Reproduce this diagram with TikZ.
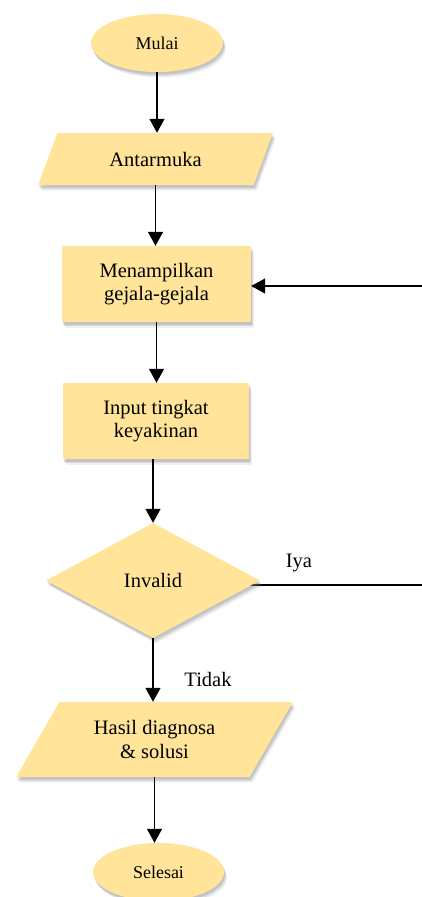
\documentclass[tikz,border=0pt]{standalone}
\usepackage{fontspec}
\setmainfont{Liberation Serif}
\usetikzlibrary{shapes.geometric,shadows,arrows.meta}
\pgfdeclarelayer{background}
\pgfsetlayers{background,main}
\definecolor{boxfill}{HTML}{FFE499}
\tikzset{
 base/.style={fill=boxfill, draw=none,
   drop shadow={shadow xshift=3pt, shadow yshift=-5.5pt, opacity=0.12},
   drop shadow={shadow xshift=2pt, shadow yshift=-4pt, opacity=0.2},
   drop shadow={shadow xshift=1pt, shadow yshift=-2.5pt, opacity=0.25},
   align=center, font=\fontsize{20.5}{23.5}\selectfont, inner sep=0pt},
 term/.style={base, ellipse, minimum width=132pt, minimum height=58pt, font=\fontsize{18}{21}\selectfont},
 proc/.style={base, rectangle, minimum height=76pt},
 io/.style={base, trapezium, trapezium stretches=true},
 dec/.style={base, diamond, minimum width=214pt, minimum height=115pt},
 arr/.style={line width=1.3pt, -{Triangle[length=14pt,width=15pt]}},
 plain/.style={line width=1.3pt},
 lbl/.style={font=\fontsize{20.5}{23.5}\selectfont},
}
\begin{document}
\begin{tikzpicture}[x=1pt,y=-1pt]
\useasboundingbox (0,0) rectangle (422,897);
\node[term] (start) at (157,43) {Mulai};
\node[io, minimum width=235pt, minimum height=52pt, trapezium left angle=58, trapezium right angle=122] (ui) at (155.5,159) {Antarmuka};
\node[proc, minimum width=189pt] (show) at (156.5,284) {Menampilkan\\gejala-gejala};
\node[proc, minimum width=186pt] (inp) at (156,421) {Input tingkat\\keyakinan};
\node[dec] (inv) at (153,580.5) {Invalid};
\node[io, minimum width=277pt, minimum height=75pt, trapezium left angle=54, trapezium right angle=126] (res) at (154.5,739.5) {Hasil diagnosa\\\& solusi};
\node[term, minimum width=131pt] (end) at (158.5,872) {Selesai};
\coordinate (inR) at (422,286);
\coordinate (outR) at (422,585);
\node[lbl] (iya) at (299,563) {Iya};
\node[lbl] (tidak) at (208,679) {Tidak};
\draw[arr] (start.south) -- (start.south |- ui.north);
\draw[arr] (ui.south) -- (ui.south |- show.north);
\draw[arr] (show.south) -- (show.south |- inp.north);
\draw[arr] (inp.south -| inv.north) -- (inv.north);
\draw[arr] (inv.south) -- (inv.south |- res.north);
\draw[arr] (res.south) -- (res.south |- end.north);
\draw[arr] (inR) -- (show.east |- inR);
\begin{pgfonlayer}{background}
\draw[plain] (inv.center |- outR) -- (outR);
\end{pgfonlayer}
\end{tikzpicture}
\end{document}
